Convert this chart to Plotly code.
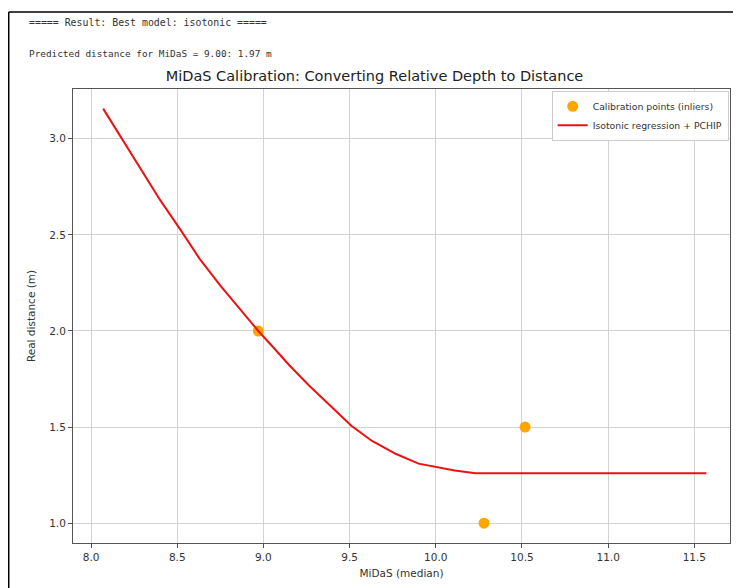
import plotly.graph_objects as go

# Calibration points (inliers)
pts_x = [8.97, 10.28, 10.518]
pts_y = [2.0, 1.0, 1.5]

# Isotonic regression + PCHIP curve
curve_x = [8.07, 8.15, 8.25, 8.40, 8.52, 8.63, 8.75, 8.86, 8.97, 9.05, 9.15,
           9.26, 9.38, 9.51, 9.63, 9.77, 9.90, 10.00, 10.11, 10.23, 11.57]
curve_y = [3.157, 3.040, 2.895, 2.682, 2.525, 2.375, 2.236, 2.120, 2.000, 1.922, 1.822,
           1.720, 1.617, 1.507, 1.428, 1.360, 1.310, 1.292, 1.274, 1.260, 1.260]

x_ticks = [8.0, 8.5, 9.0, 9.5, 10.0, 10.5, 11.0, 11.5]
y_ticks = [1.0, 1.5, 2.0, 2.5, 3.0]

# page body has an 8px margin; figure coords = screen coords - 8
OFF = 8
W, H = 733, 580
L, T = 73.3 - OFF, 89 - OFF
R = W - (730.7 - OFF)
B = H - (549 - OFF)
pw, ph = W - L - R, H - T - B

def px(x):
    return (x - OFF - L) / pw

def py(y):
    return (H - B - (y - OFF)) / ph

fig = go.Figure()
fig.add_trace(go.Scatter(x=pts_x, y=pts_y, mode="markers",
                         marker=dict(color="#FFA500", size=11),
                         name="Calibration points (inliers)"))
fig.add_trace(go.Scatter(x=curve_x, y=curve_y, mode="lines",
                         line=dict(color="#EE1111", width=2),
                         name="Isotonic regression + PCHIP"))

tickfont = dict(family="DejaVu Sans", size=10.5, color="#333333")
axis_common = dict(showline=True, linecolor="#555555", linewidth=1, mirror=True,
                   showgrid=True, gridcolor="#D3D3D3", gridwidth=1,
                   ticks="outside", ticklen=4, tickcolor="#555555",
                   zeroline=False, tickfont=tickfont)

fig.update_layout(
    width=W, height=H,
    margin=dict(l=L, r=R, t=T, b=B),
    paper_bgcolor="white", plot_bgcolor="white",
    font=dict(family="DejaVu Sans", size=10, color="#333333"),
    title=dict(text="MiDaS Calibration: Converting Relative Depth to Distance",
               x=px(402), xanchor="center", y=1 - (76 - OFF) / H, yanchor="middle",
               font=dict(family="DejaVu Sans", size=14.5, color="#222222")),
    xaxis=dict(range=[7.895, 11.707], tickvals=x_ticks,
               ticktext=[f"{v:.1f}" for v in x_ticks],
               title=dict(text="MiDaS (median)", standoff=8,
                          font=dict(family="DejaVu Sans", size=10.5, color="#333333")),
               **axis_common),
    yaxis=dict(range=[0.897, 3.259], tickvals=y_ticks,
               ticktext=[f"{v:.1f}" for v in y_ticks],
               title=dict(text="Real distance (m)", standoff=11,
                          font=dict(family="DejaVu Sans", size=10.5, color="#333333")),
               **axis_common),
    legend=dict(x=0.998, y=0.996, xanchor="right", yanchor="top",
                bgcolor="rgba(255,255,255,0.9)", bordercolor="#CCCCCC", borderwidth=1,
                font=dict(family="DejaVu Sans", size=9.3, color="#333333"),
                tracegroupgap=0, itemwidth=30),
    showlegend=True,
)

# notebook output text above the chart
fig.add_annotation(text="===== Result: Best model: isotonic =====",
                   xref="paper", yref="paper", x=px(27), y=py(22),
                   xanchor="left", yanchor="middle", showarrow=False,
                   font=dict(family="DejaVu Sans Mono", size=9.9, color="#333333"))
fig.add_annotation(text="Predicted distance for MiDaS = 9.00: 1.97 m",
                   xref="paper", yref="paper", x=px(27), y=py(53),
                   xanchor="left", yanchor="middle", showarrow=False,
                   font=dict(family="DejaVu Sans Mono", size=9.4, color="#333333"))

# screenshot frame
fig.add_shape(type="line", xref="paper", yref="paper",
              x0=px(9), y0=py(11), x1=px(760), y1=py(11),
              line=dict(color="black", width=1.5))
fig.add_shape(type="line", xref="paper", yref="paper",
              x0=px(9), y0=py(11), x1=px(9), y1=py(600),
              line=dict(color="black", width=1.5))

fig.write_html("out.html")
